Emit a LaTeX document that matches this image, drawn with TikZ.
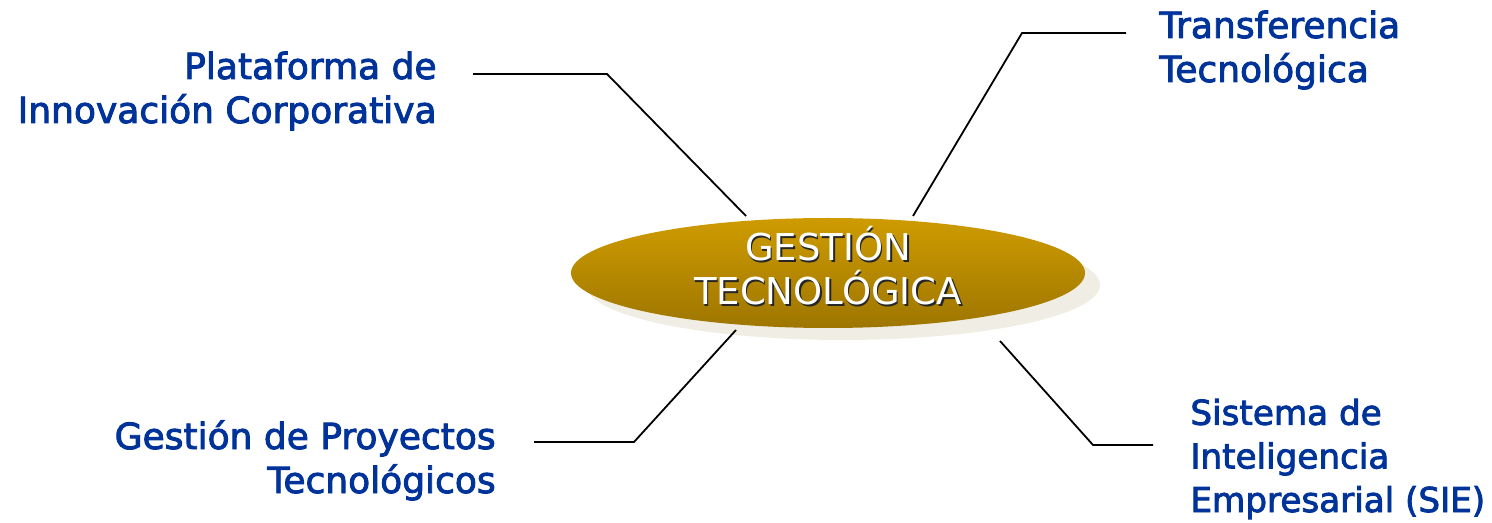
\documentclass[tikz,border=0pt]{standalone}
\usepackage{fontspec}
\setmainfont{DejaVu Sans}
\newfontfamily\ramafont{DejaVu Sans}[FakeBold=2.5]
\usepackage{tikz}
\usetikzlibrary{shapes.geometric,shadows}
\definecolor{azul}{RGB}{0,51,153}
\definecolor{oroclaro}{RGB}{206,155,0}
\definecolor{orooscuro}{RGB}{158,118,0}
\definecolor{sombra}{RGB}{240,238,228}
\tikzset{
    every node/.style={inner sep=0pt, font=\fontsize{18.5}{22}\selectfont}
}
\tikzset{
    rama/.style={text=azul, font=\fontsize{18}{22}\ramafont}
}
\tikzset{
    enlace/.style={line width=0.9pt, black}
}
\newcommand{\shtxt}[1]{\makebox[0pt][l]{\hspace{0.9pt}\raisebox{-0.9pt}{\color{black!85}#1}}#1}

\begin{document}
\begin{tikzpicture}[x=0.5pt,y=-0.5pt]
	\useasboundingbox (0,0) rectangle (1492,523);
	\node (gt) [ellipse, minimum width=257pt, minimum height=55pt,
		top color=oroclaro, bottom color=orooscuro,
		general shadow={fill=sombra, shadow xshift=7.5pt, shadow yshift=-6pt}] at (828,273) {};
	\node (gttxt) [text=white, align=center, anchor=base] at (828,305) {\shtxt{GESTIÓN}\\\shtxt{TECNOLÓGICA}};
	
	\node (plat) [rama, align=right, anchor=base east] at (437,123) {Plataforma de\\Innovación Corporativa};
	\node (trans) [rama, align=left, anchor=base west] at (1159,82) {Transferencia\\Tecnológica};
	\node (proy) [rama, align=right, anchor=base east] at (496,493) {Gestión de Proyectos\\Tecnológicos};
	\node (sie) [rama, font=\fontsize{17.1}{21.8}\ramafont, align=left, anchor=base west] at (1190,512) {Sistema de\\Inteligencia\\Empresarial (SIE)};
	
	\coordinate (platfin) at (473,74); \coordinate (platcodo) at (607,74); \coordinate (platbase) at (746,216);
	\coordinate (transfin) at (1126,33); \coordinate (transcodo) at (1022,33); \coordinate (transbase) at (913,216);
	\coordinate (proyfin) at (534,442); \coordinate (proycodo) at (634,442); \coordinate (proybase) at (736,330);
	\coordinate (siefin) at (1153,445); \coordinate (siecodo) at (1093,445); \coordinate (siebase) at (1000,341);
	
	\draw[enlace] (platfin) -- (platcodo) -- (platbase);
	\draw[enlace] (transfin) -- (transcodo) -- (transbase);
	\draw[enlace] (proyfin) -- (proycodo) -- (proybase);
	\draw[enlace] (siefin) -- (siecodo) -- (siebase);
\end{tikzpicture}
\end{document}
